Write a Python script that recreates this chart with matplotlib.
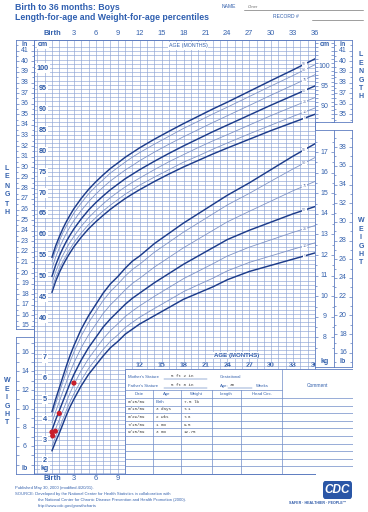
import numpy as np
import matplotlib
matplotlib.use("Agg")
import matplotlib.pyplot as plt
from matplotlib.patches import Rectangle, FancyBboxPatch

plt.rcParams['font.family'] = ['Liberation Sans', 'DejaVu Sans']

# ----------------------------- data -----------------------------
ages = [0, 0.5, 1, 1.5, 2, 2.5, 3, 4, 5, 6, 7, 8, 9, 10, 11, 12,
        14, 16, 18, 20, 22, 24, 27, 30, 33, 36]
percentiles = ['5', '10', '25', '50', '75', '90', '95']

len_p5  = [46.2, 48.8, 50.9, 52.7, 54.3, 55.75, 57.1, 59.4, 61.4, 63.1, 64.65, 66.1, 67.4, 68.65, 69.75, 70.8,
           72.75, 74.55, 76.25, 77.8, 79.35, 80.8, 82.9, 85.0, 86.95, 88.9]
len_p10 = [47.0, 49.7, 51.8, 53.6, 55.2, 56.7, 58.05, 60.4, 62.4, 64.1, 65.7, 67.1, 68.4, 69.7, 70.8, 71.9,
           73.8, 75.6, 77.4, 78.9, 80.5, 82.0, 84.2, 86.3, 88.4, 90.4]
len_p25 = [48.4, 51.1, 53.3, 55.1, 56.8, 58.3, 59.6, 62.0, 64.05, 65.8, 67.4, 68.9, 70.2, 71.45, 72.55, 73.6,
           75.6, 77.5, 79.2, 80.9, 82.5, 84.0, 86.3, 88.6, 90.75, 92.9]
len_p50 = [50.0, 52.7, 54.9, 56.8, 58.5, 60.0, 61.4, 63.8, 65.9, 67.7, 69.3, 70.8, 72.1, 73.4, 74.5, 75.6,
           77.6, 79.5, 81.3, 83.0, 84.7, 86.3, 88.7, 91.1, 93.4, 95.7]
len_p75 = [51.9, 54.6, 56.8, 58.7, 60.45, 62.0, 63.4, 65.8, 67.9, 69.75, 71.4, 72.9, 74.2, 75.5, 76.6, 77.75,
           79.8, 81.7, 83.5, 85.2, 86.9, 88.55, 91.0, 93.5, 95.9, 98.4]
len_p90 = [53.6, 56.3, 58.5, 60.5, 62.2, 63.7, 65.2, 67.6, 69.8, 71.6, 73.2, 74.8, 76.1, 77.4, 78.6, 79.7,
           81.7, 83.6, 85.5, 87.2, 88.95, 90.6, 93.15, 95.7, 98.2, 100.8]
len_p95 = [54.6, 57.3, 59.5, 61.5, 63.25, 64.8, 66.25, 68.7, 70.85, 72.7, 74.35, 75.9, 77.2, 78.55, 79.7, 80.85,
           82.9, 84.8, 86.65, 88.4, 90.15, 91.8, 94.4, 97.0, 99.55, 102.2]

wt_p5  = [2.5, 2.95, 3.35, 3.8, 4.25, 4.65, 5.0, 5.65, 6.2, 6.65, 7.1, 7.5, 7.8, 8.15, 8.4, 8.65,
          9.05, 9.45, 9.85, 10.15, 10.45, 10.8, 11.2, 11.5, 11.8, 12.1]
wt_p10 = [2.72, 3.18, 3.59, 4.04, 4.49, 4.9, 5.26, 5.92, 6.49, 6.95, 7.41, 7.81, 8.12, 8.47, 8.73, 8.98,
          9.4, 9.81, 10.22, 10.55, 10.87, 11.23, 11.64, 11.96, 12.28, 12.59]
wt_p25 = [3.09, 3.57, 4.0, 4.45, 4.9, 5.33, 5.71, 6.39, 6.97, 7.45, 7.93, 8.33, 8.66, 9.01, 9.28, 9.53,
          9.99, 10.42, 10.85, 11.21, 11.57, 11.95, 12.38, 12.74, 13.1, 13.43]
wt_p50 = [3.5, 4.0, 4.45, 4.9, 5.35, 5.8, 6.2, 6.9, 7.5, 8.0, 8.5, 8.9, 9.25, 9.6, 9.9, 10.15,
          10.65, 11.1, 11.55, 11.95, 12.35, 12.75, 13.2, 13.6, 14.0, 14.35]
wt_p75 = [3.86, 4.4, 4.89, 5.38, 5.87, 6.34, 6.76, 7.5, 8.12, 8.64, 9.16, 9.58, 9.93, 10.3, 10.62, 10.87,
          11.41, 11.88, 12.35, 12.77, 13.19, 13.61, 14.12, 14.62, 15.12, 15.57]
wt_p90 = [4.2, 4.78, 5.31, 5.84, 6.36, 6.85, 7.29, 8.07, 8.71, 9.25, 9.79, 10.23, 10.58, 10.97, 11.3, 11.55,
          12.13, 12.62, 13.11, 13.55, 13.99, 14.43, 14.99, 15.59, 16.18, 16.73]
wt_p95 = [4.4, 5.0, 5.55, 6.1, 6.65, 7.15, 7.6, 8.4, 9.05, 9.6, 10.15, 10.6, 10.95, 11.35, 11.7, 11.95,
          12.55, 13.05, 13.55, 14.0, 14.45, 14.9, 15.5, 16.15, 16.8, 17.4]

visit_dates = ['6/15/09', '6/18/09', '6/29/09', '7/15/09', '9/15/09']
visit_age_text = ['Birth', '3 days', '2 wks', '1 mo', '3 mo']
visit_age_months = [0, 0.1, 0.46, 1, 3]
visit_weight_lb = [7.5, 7.1, 7.6, 9.5, 12.75]
visit_weight_text = ['7.5 lb', '7.1', '7.6', '9.5', '12.75']

month_ticks = list(range(0, 37, 3))
month_labels = ['Birth'] + [str(m) for m in range(3, 37, 3)]
cm_left_labels = list(range(40, 101, 5))
kg_left_labels = [2, 3, 4, 5, 6, 7]
in_left_labels = list(range(15, 42))
lb_left_labels = [6, 8, 10, 12, 14, 16]
cm_right_labels = [90, 95, 100]
in_right_labels = list(range(35, 42))
kg_right_labels = list(range(8, 18))
lb_right_labels = list(range(16, 39, 2))

# ----------------------------- layout -----------------------------
W, H = 368, 512
TITLE = '#2f5fb0'
BLUE = '#3461ad'
LBL = '#2d5aa8'
GRID = '#8ea4d4'
FRAME = '#5d7cc0'
DARK = '#1d3c8a'
LIGHT = '#8094c6'
RED = '#c81e2b'
INK = '#3a3a3a'

X0, X36 = 52.0, 315.0
PXM = (X36 - X0) / 36.0
CM100_Y, PX_CM = 68.0, 4.167
KG2_Y, PX_KG = 461.0, 20.6
LB_PER_KG = 2.20462


def mo_at(px):
    return (px - X0) / PXM


def cm_at(py):
    return 100 - (py - CM100_Y) / PX_CM


def kg_at(py):
    return 2 - (py - KG2_Y) / PX_KG


def rect(x0, y0, x1, y1):
    return [x0 / W, 1 - y1 / H, (x1 - x0) / W, (y1 - y0) / H]


def ftext(x, y, s, **kw):
    kw.setdefault('ha', 'left')
    kw.setdefault('va', 'center')
    kw.setdefault('color', BLUE)
    return fig.text(x / W, 1 - y / H, s, **kw)


fig = plt.figure(figsize=(W / 100, H / 100), dpi=100)
fig.patch.set_facecolor('white')

# ---------------- main grid ----------------
GX0, GY0, GX1, GY1 = 34, 40, 315, 474
ax = fig.add_axes(rect(GX0, GY0, GX1, GY1))
ax.set_xlim(mo_at(GX0), mo_at(GX1))
ax.set_ylim(cm_at(GY1), cm_at(GY0))
ax.set_xticks([]); ax.set_yticks([])
ax2 = ax.twinx()
ax2.set_ylim(kg_at(GY1), kg_at(GY0))
ax2.set_yticks([])
for a in (ax, ax2):
    for s in a.spines.values():
        s.set_color(FRAME); s.set_linewidth(0.6)

for m in range(-2, 36):
    ax.axvline(m, color=GRID, lw=0.45, zorder=0)
for c in range(37, 106):
    ax.axhline(c, color=GRID, lw=0.45, zorder=0)
for i in range(34):
    ax2.axhline(1.4 + 0.2 * i, color=GRID, lw=0.45, zorder=0)

len_series = [len_p5, len_p10, len_p25, len_p50, len_p75, len_p90, len_p95]
wt_series = [wt_p5, wt_p10, wt_p25, wt_p50, wt_p75, wt_p90, wt_p95]
lab_age = mo_at(304.5)
for lab, ser in zip(percentiles, len_series):
    heavy = lab in ('5', '50', '95')
    ax.plot(ages, ser, color=DARK if heavy else LIGHT, lw=1.05 if heavy else 0.6, zorder=3)
    ax.text(lab_age, np.interp(lab_age, ages, ser), lab, fontsize=2.8, color='#6d80b4',
            ha='center', va='center', zorder=4,
            bbox=dict(fc='white', ec='none', pad=0.2))
for lab, ser in zip(percentiles, wt_series):
    heavy = lab in ('5', '50', '95')
    ax2.plot(ages, ser, color=DARK if heavy else LIGHT, lw=1.05 if heavy else 0.6, zorder=3)
    ax2.text(lab_age, np.interp(lab_age, ages, ser), lab, fontsize=2.8, color='#6d80b4',
             ha='center', va='center', zorder=4,
             bbox=dict(fc='white', ec='none', pad=0.2))

ax2.scatter(visit_age_months, [w / LB_PER_KG for w in visit_weight_lb], s=14,
            color=RED, edgecolors='none', zorder=6)

# labels inside grid
for c in cm_left_labels:
    ax.text(mo_at(43), c, str(c), fontsize=5.2, color=LBL, ha='center', va='center', zorder=6,
            fontweight='bold', bbox=dict(boxstyle='square,pad=0.15', fc='white', ec='none'))
ax.text(mo_at(43), cm_at(44), 'cm', fontsize=5.0, color=LBL, ha='center', va='center',
        fontweight='bold', zorder=6, bbox=dict(boxstyle='square,pad=0.15', fc='white', ec='none'))
for k in kg_left_labels:
    ax2.text(mo_at(45), k, str(k), fontsize=5.2, color=LBL, ha='center', va='center', zorder=6,
             fontweight='bold', bbox=dict(boxstyle='square,pad=0.15', fc='white', ec='none'))
ax2.text(mo_at(45), kg_at(468), 'kg', fontsize=5.0, color=LBL, ha='center', va='center',
         fontweight='bold', zorder=6, bbox=dict(boxstyle='square,pad=0.15', fc='white', ec='none'))

xt = ax.get_xaxis_transform()
ax.text(mo_at(188), (GY1 - 46) / (GY1 - GY0), 'AGE (MONTHS)', transform=xt, fontsize=3.8,
        color=BLUE, ha='center', va='center',
        bbox=dict(boxstyle='square,pad=0.2', fc='white', ec='none'))
ax.text(mo_at(237), (GY1 - 355.7) / (GY1 - GY0), 'AGE (MONTHS)', transform=xt, fontsize=4.4,
        color=LBL, fontweight='bold', ha='center', va='center',
        bbox=dict(boxstyle='square,pad=0.15', fc='white', ec='none'))

for m, lab in zip(month_ticks, month_labels):
    ax.text(m, 1 + 6.5 / (GY1 - GY0), lab, transform=xt, fontsize=5.4, color=BLUE,
            ha='center', va='center', fontweight='bold' if m == 0 else 'normal')
    if m <= 9:
        ax.text(m, -4.5 / (GY1 - GY0), lab, transform=xt, fontsize=5.4, color=BLUE,
                ha='center', va='center', fontweight='bold' if m == 0 else 'normal')
    else:
        ax.text(m, (GY1 - 365.7) / (GY1 - GY0), lab, transform=xt, fontsize=5.0, color=LBL,
                ha='center', va='center', zorder=6, fontweight='bold',
                bbox=dict(boxstyle='square,pad=0.1', fc='white', ec='none'))


# ---------------- side columns ----------------
def column(x0, y0, x1, y1, lo, hi, major, minor, labels, fs=5.0, xc=0.5):
    a = fig.add_axes(rect(x0, y0, x1, y1))
    a.set_xlim(0, 1); a.set_ylim(lo, hi)
    a.set_xticks([])
    a.set_yticks(major)
    a.set_yticks(minor, minor=True)
    a.tick_params(axis='y', which='both', direction='in', left=True, right=True,
                  labelleft=False, labelright=False, color=FRAME, width=0.5)
    a.tick_params(axis='y', which='major', length=2.4)
    a.tick_params(axis='y', which='minor', length=1.1)
    for s in a.spines.values():
        s.set_color(FRAME); s.set_linewidth(0.6)
    for v in labels:
        a.text(xc, v, str(v), ha='center', va='center', fontsize=fs, color=BLUE)
    return a


# left inches
column(16, 40, 34, 329, cm_at(329) / 2.54, cm_at(40) / 2.54,
       in_left_labels, [v + 0.5 for v in range(15, 42)], in_left_labels)
ftext(25, 44, 'in', ha='center', fontsize=5.0, fontweight='bold')
# left pounds
column(16, 337, 34, 474, kg_at(474) * LB_PER_KG, kg_at(337) * LB_PER_KG,
       list(range(4, 18)), [], lb_left_labels)
ftext(25, 468, 'lb', ha='center', fontsize=5.0, fontweight='bold')
# right cm / in
column(315, 40, 334, 122, cm_at(122), cm_at(40), list(range(86, 107)), [], cm_right_labels)
column(334, 40, 352, 122, cm_at(122) / 2.54, cm_at(40) / 2.54, in_right_labels,
       [v + 0.5 for v in range(34, 42)], in_right_labels)
ftext(324.5, 44, 'cm', ha='center', fontsize=5.0, fontweight='bold')
ftext(343, 44, 'in', ha='center', fontsize=5.0, fontweight='bold')
# right kg / lb
column(315, 130, 334, 367, kg_at(367), kg_at(130), kg_right_labels,
       [v + 0.5 for v in range(7, 18)], kg_right_labels)
column(334, 130, 352, 367, kg_at(367) * LB_PER_KG, kg_at(130) * LB_PER_KG,
       lb_right_labels, list(range(15, 40, 2)), lb_right_labels)
ftext(324.5, 361.5, 'kg', ha='center', fontsize=5.0, fontweight='bold',
      bbox=dict(boxstyle='square,pad=0.1', fc='white', ec='none'))
ftext(343, 361.5, 'lb', ha='center', fontsize=5.0, fontweight='bold',
      bbox=dict(boxstyle='square,pad=0.1', fc='white', ec='none'))

# stacked side words
for i, ch in enumerate('LENGTH'):
    ftext(7, 168 + i * 9, ch, ha='center', fontsize=5.0, fontweight='bold')
    ftext(361, 55 + i * 8.4, ch, ha='center', fontsize=5.0, fontweight='bold')
for i, ch in enumerate('WEIGHT'):
    ftext(7, 381 + i * 8.4, ch, ha='center', fontsize=5.0, fontweight='bold')
    ftext(361, 221 + i * 8.4, ch, ha='center', fontsize=5.0, fontweight='bold')

# ---------------- table ----------------
TX0, TY0, TX1, TY1 = 125, 369, 353, 474
axt = fig.add_axes(rect(TX0, TY0, TX1, TY1))
axt.set_zorder(5)
axt.set_xlim(TX0, TX1); axt.set_ylim(TY1, TY0)
axt.axis('off')
axt.add_patch(Rectangle((TX0, TY0), TX1 - TX0, TY1 - TY0, fc='white', ec=FRAME, lw=0.6))
LC = '#6f8cc8'
axt.plot([282, 282], [TY0, TY1], color=LC, lw=0.5)
axt.plot([TX0, 282], [390, 390], color=LC, lw=0.5)
row_y = [398 + 7.6 * k for k in range(10)]
for y in row_y:
    axt.plot([TX0, TX1], [y, y], color=LC, lw=0.5)
for x in (153, 181, 212, 241):
    axt.plot([x, x], [390, TY1], color=LC, lw=0.5)
fs_t = 3.1
axt.text(128, 377, "Mother's Stature", fontsize=fs_t, color=BLUE, va='center')
axt.text(128, 386, "Father's Stature", fontsize=fs_t, color=BLUE, va='center')
axt.text(171, 376.5, '5 ft 2 in', fontsize=fs_t, color=INK, va='center', family='Liberation Mono')
axt.text(171, 385.5, '5 ft 8 in', fontsize=fs_t, color=INK, va='center', family='Liberation Mono')
axt.plot([164, 207], [379, 379], color=BLUE, lw=0.35)
axt.plot([164, 207], [388, 388], color=BLUE, lw=0.35)
axt.text(220, 377, 'Gestational', fontsize=fs_t, color=BLUE, va='center')
axt.text(220, 386, 'Age:', fontsize=fs_t, color=BLUE, va='center')
axt.text(230, 385.5, '38', fontsize=fs_t, color=INK, va='center', family='Liberation Mono')
axt.plot([228, 252], [388, 388], color=BLUE, lw=0.35)
axt.text(256, 386, 'Weeks', fontsize=fs_t, color=BLUE, va='center')
axt.text(317.5, 386, 'Comment', fontsize=3.5, color=BLUE, ha='center', va='center')
for xc, h in zip((139, 167, 196.5, 226.5, 261.5), ('Date', 'Age', 'Weight', 'Length', 'Head Circ.')):
    axt.text(xc, 394, h, fontsize=fs_t, color=BLUE, ha='center', va='center')
for i, (d, a_, w) in enumerate(zip(visit_dates, visit_age_text, visit_weight_text)):
    y = row_y[i] + 3.8
    axt.text(127.5, y, d, fontsize=fs_t, color=INK, va='center', family='Liberation Mono')
    axt.text(156, y, a_, fontsize=fs_t, color=BLUE if a_ == 'Birth' else INK, va='center',
             family='Liberation Sans' if a_ == 'Birth' else 'Liberation Mono')
    axt.text(184, y, w, fontsize=fs_t, color=INK, va='center', family='Liberation Mono')

# ---------------- header / footer ----------------
ftext(15, 7, 'Birth to 36 months: Boys', fontsize=6.3, fontweight='bold', color=TITLE)
ftext(15, 17, 'Length-for-age and Weight-for-age percentiles', fontsize=6.3,
      fontweight='bold', color=TITLE)
ftext(222, 7, 'NAME', fontsize=3.6)
ftext(248, 6.5, 'Omer', fontsize=3.0, color='#666666', style='italic')
ftext(273, 17, 'RECORD #', fontsize=3.6)
fig.add_artist(plt.Line2D([244 / W, 363 / W], [1 - 9.5 / H, 1 - 9.5 / H], color='#555555', lw=0.4))
fig.add_artist(plt.Line2D([312 / W, 363 / W], [1 - 19.5 / H, 1 - 19.5 / H], color='#555555', lw=0.4))

ftext(15, 487.5, 'Published May 30, 2000 (modified 4/20/01).', fontsize=3.0)
ftext(15, 493.5, 'SOURCE: Developed by the National Center for Health Statistics in collaboration with',
      fontsize=3.0)
ftext(38, 500, 'the National Center for Chronic Disease Prevention and Health Promotion (2000).',
      fontsize=3.0)
ftext(38, 506, 'http://www.cdc.gov/growthcharts', fontsize=3.0)

logo = FancyBboxPatch((323 / W, 1 - 499 / H), 29 / W, 18 / H,
                      boxstyle='round,pad=0,rounding_size=0.006', transform=fig.transFigure,
                      fc='#2a56a6', ec='none')
fig.add_artist(logo)
ftext(337.5, 490, 'CDC', ha='center', fontsize=8.5, fontweight='bold', color='white', style='italic')
ftext(318, 503.5, 'SAFER \u00b7 HEALTHIER \u00b7 PEOPLE\u2122', ha='center', fontsize=2.6,
      fontweight='bold', color='#2a56a6')

fig.savefig('out.png', dpi=100, facecolor='white')
